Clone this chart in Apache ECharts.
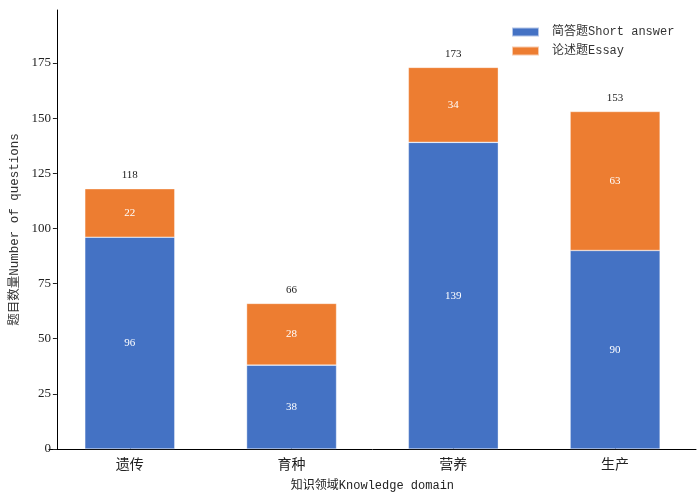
<!DOCTYPE html>
<html lang="zh">
<head>
<meta charset="UTF-8">
<title>题目数量</title>
<script src="https://cdn.jsdelivr.net/npm/echarts@6/dist/echarts.min.js"></script>
<style>
    html, body { margin: 0; padding: 0; background: #fff; }
    #chart { width: 700px; height: 497px; }
</style>
</head>
<body>
<div id="chart"></div>
<script>
// 数据
var categories = ['遗传', '育种', '营养', '生产'];
var shortAnswer = [96, 38, 139, 90];
var essay = [22, 28, 34, 63];
var yTicks = [0, 25, 50, 75, 100, 125, 150, 175];

var totals = shortAnswer.map(function (v, i) { return v + essay[i]; });
var zeros = totals.map(function () { return 0; });

var monoCJK = "'Liberation Mono', 'Noto Sans CJK SC', monospace";
var serif = "'Liberation Serif', 'Noto Sans CJK SC', serif";

var chart = echarts.init(document.getElementById('chart'));

var option = {
    animation: false,
    grid: { left: 47, right: 4, top: 10, bottom: 48, containLabel: false },
    legend: {
        data: ['简答题Short answer', '论述题Essay'],
        orient: 'vertical',
        left: 506,
        top: 21,
        itemWidth: 27,
        itemHeight: 9,
        itemGap: 7,
        icon: 'rect',
        textStyle: { fontFamily: monoCJK, fontSize: 12, color: '#333', padding: [0, 0, 0, 8] }
    },
    xAxis: {
        type: 'category',
        data: categories,
        name: '知识领域Knowledge domain',
        nameLocation: 'middle',
        nameGap: 31,
        nameTextStyle: { fontFamily: monoCJK, fontSize: 12, color: '#222' },
        axisLine: { show: true, lineStyle: { color: '#000', width: 1 } },
        axisTick: { show: true, inside: true, length: 5, alignWithLabel: true, lineStyle: { color: '#222' } },
        axisLabel: {
            margin: 8,
            fontFamily: "'Noto Sans CJK SC', sans-serif",
            fontSize: 14,
            color: '#222'
        }
    },
    yAxis: {
        type: 'value',
        min: 0,
        max: 199,
        offset: -8,
        splitLine: { show: false },
        name: '题目数量Number of questions',
        nameLocation: 'middle',
        nameGap: 33,
        nameTextStyle: { fontFamily: monoCJK, fontSize: 12.5, color: '#333' },
        axisLine: { show: true, lineStyle: { color: '#000', width: 1 } },
        axisTick: { show: true, length: 4, customValues: yTicks, lineStyle: { color: '#222' } },
        axisLabel: {
            customValues: yTicks,
            margin: 6,
            fontFamily: serif,
            fontSize: 13,
            color: '#222'
        }
    },
    series: [
        {
            name: '简答题Short answer',
            type: 'bar',
            stack: 'q',
            barWidth: 90,
            data: shortAnswer,
            itemStyle: { color: '#4472C4', borderColor: 'rgba(255,255,255,0.6)', borderWidth: 0.6 },
            label: { show: true, position: 'inside', color: '#fff', fontFamily: serif, fontSize: 11 }
        },
        {
            name: '论述题Essay',
            type: 'bar',
            stack: 'q',
            barWidth: 90,
            data: essay,
            itemStyle: { color: '#ED7D31', borderColor: 'rgba(255,255,255,0.6)', borderWidth: 0.6 },
            label: { show: true, position: 'inside', color: '#fff', fontFamily: serif, fontSize: 11 }
        },
        {
            name: 'total',
            type: 'bar',
            stack: 'q',
            barWidth: 90,
            data: zeros,
            itemStyle: { color: 'transparent' },
            label: { show: true, position: 'top', distance: 8, color: '#222', fontFamily: serif, fontSize: 11,
                formatter: function (p) { return totals[p.dataIndex]; } }
        }
    ]
};

chart.setOption(option);
</script>
</body>
</html>
